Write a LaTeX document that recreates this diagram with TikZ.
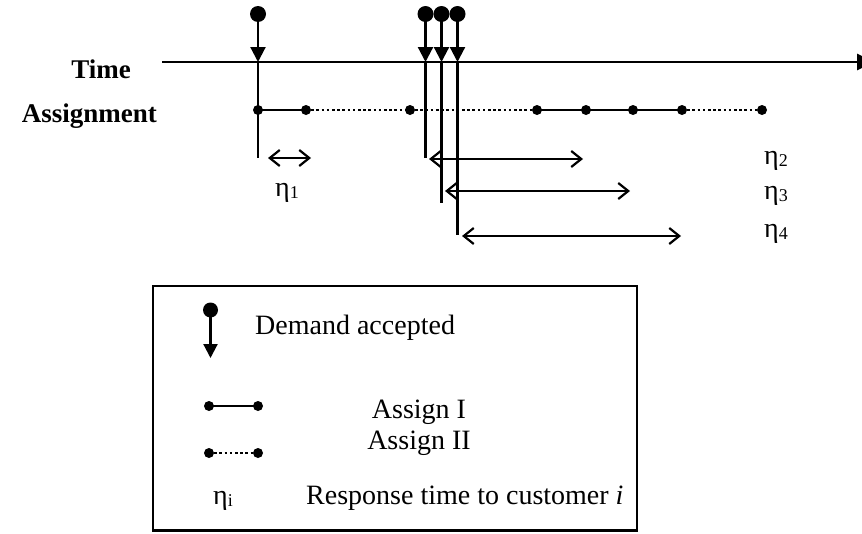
\documentclass[tikz,border=0pt]{standalone}
\usepackage{fontspec}
\setmainfont{Liberation Serif}
\usetikzlibrary{arrows.meta}

% eta with a small lowered index
\newcommand{\etaidx}[1]{η\raisebox{-2.5pt}{\fontsize{18}{18}\selectfont #1}}

\tikzset{
  lbl/.style={font=\fontsize{28}{30}\selectfont, inner sep=0pt},
  boldlbl/.style={font=\fontsize{27}{30}\selectfont\bfseries, inner sep=0pt},
  bigdot/.style={circle, fill=black, minimum size=16pt, inner sep=0pt},
  smalldot/.style={circle, fill=black, minimum size=10pt, inner sep=0pt},
  axisline/.style={line width=2.8pt},
  stemline/.style={line width=2.2pt},
  stemtip/.style={line width=2.2pt, -{Triangle[length=15pt,width=15pt]}},
  solidseg/.style={line width=2.5pt},
  dotseg/.style={line width=2.6pt, dash pattern=on 2.6pt off 2.6pt},
  span/.style={line width=2.2pt, {Straight Barb[length=10pt,width=16pt,line width=2.2pt]}-{Straight Barb[length=10pt,width=16pt,line width=2.2pt]}},
  legendbox/.style={line width=2.4pt}
}

\begin{document}
\begin{tikzpicture}[x=1pt,y=-1pt]
\useasboundingbox (0,0) rectangle (862,533);

% time axis
\coordinate (tstart) at (162,62);
\coordinate (tend) at (874,62);
\draw[axisline, -{Triangle[length=17pt,width=16pt]}] (tstart) -- (tend);
\node[boldlbl, anchor=base east] (timelbl) at (131,78) {Time};
\node[boldlbl, anchor=base east] (assignlbl) at (157,122) {Assignment};

% demand arrivals: head, tip on the axis, line below the axis
\foreach \n/\x/\yend in {1/258/158, 2/425.5/158, 3/441.5/203, 4/457.5/235}{
  \node[bigdot] (c\n) at (\x,14) {};
  \coordinate (a\n) at (\x,62);
  \coordinate (e\n) at (\x,\yend);
  \draw[stemtip] (c\n.center) -- (a\n);
  \draw[stemline] (a\n) -- (e\n);
}

% assignment line
\foreach \n/\x in {1/258, 2/306, 3/410, 4/537, 5/586, 6/633, 7/682, 8/762}{
  \node[smalldot] (p\n) at (\x,110) {};
}
\draw[solidseg] (p1.center) -- (p2.center);
\draw[dotseg] (p2.center) -- (p3.center) -- (p4.center);
\draw[solidseg] (p4.center) -- (p5.center) -- (p6.center) -- (p7.center);
\draw[dotseg] (p7.center) -- (p8.center);

% response times
\coordinate (r1a) at (268,158); \coordinate (r1b) at (311,158);
\coordinate (r2a) at (429,159); \coordinate (r2b) at (583,159);
\coordinate (r3a) at (445,191); \coordinate (r3b) at (630,191);
\coordinate (r4a) at (462,236); \coordinate (r4b) at (681,236);
\draw[span] (r1a) -- (r1b);
\draw[span] (r2a) -- (r2b);
\draw[span] (r3a) -- (r3b);
\draw[span] (r4a) -- (r4b);
\node[lbl, anchor=base west] (eta1) at (275,196) {\etaidx{1}};
\node[lbl, anchor=base west] (eta2) at (764,164) {\etaidx{2}};
\node[lbl, anchor=base west] (eta3) at (764,199) {\etaidx{3}};
\node[lbl, anchor=base west] (eta4) at (764,237) {\etaidx{4}};

% legend
\draw[legendbox] (153,286) rectangle (637,530.5);
\node[bigdot, minimum size=15pt] (lc) at (210.5,310) {};
\coordinate (ltip) at (210.5,358);
\draw[stemtip, -{Triangle[length=14pt,width=14pt]}] (lc.center) -- (ltip);
\node[lbl, anchor=base west] (ldemand) at (255,334) {Demand accepted};

\node[smalldot] (la1) at (209,406) {};
\node[smalldot] (la2) at (258,406) {};
\draw[solidseg] (la1.center) -- (la2.center);
\node[smalldot] (lb1) at (209,453) {};
\node[smalldot] (lb2) at (258,453) {};
\draw[dotseg] (lb1.center) -- (lb2.center);
\node[lbl, anchor=base] (lassign1) at (419,418) {Assign I};
\node[lbl, anchor=base] (lassign2) at (419,449) {Assign II};

\node[lbl, anchor=base west] (letai) at (213,504) {\etaidx{i}};
\node[lbl, anchor=base west] (lresp) at (306,504) {Response time to customer \textit{i}};
\end{tikzpicture}
\end{document}
